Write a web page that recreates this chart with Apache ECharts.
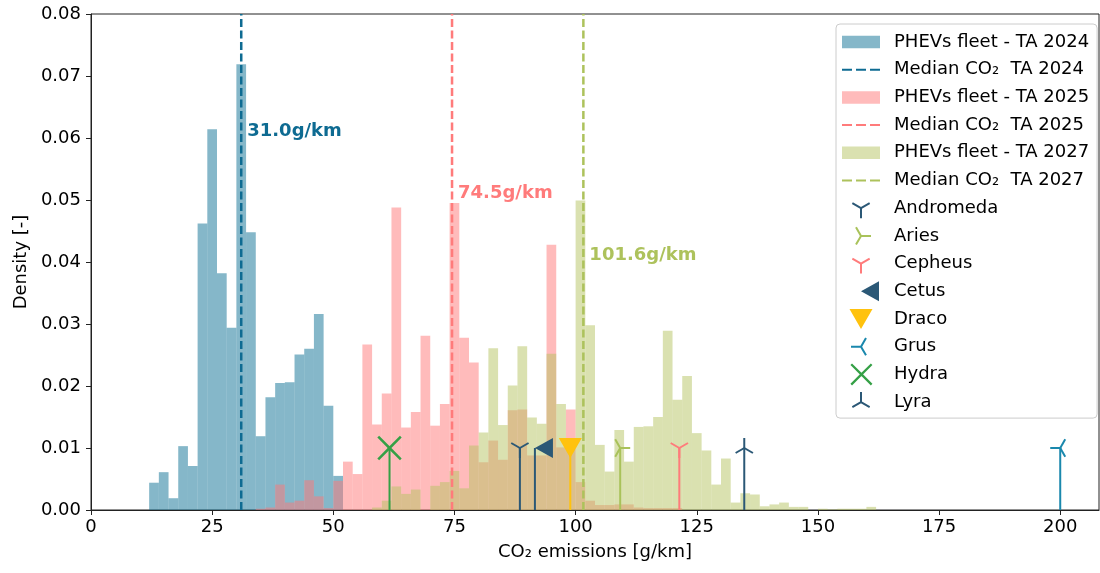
<!DOCTYPE html>
<html>
<head>
<meta charset="utf-8">
<script src="https://cdn.jsdelivr.net/npm/echarts@6/dist/echarts.min.js"></script>
<style>
html, body { margin: 0; padding: 0; background: #fff; }
#chart { width: 1100px; height: 573px; }
</style>
</head>
<body>
<div id="chart"></div>
<script>
// histogram bins (width 2 g/km), density values
var binWidth = 2;
var ta2024Start = 12;
var ta2024 = [0.0044, 0.0061, 0.0019, 0.0103, 0.0071, 0.0462, 0.0614, 0.0382, 0.0294, 0.0719,
  0.0448, 0.0119, 0.0182, 0.0205, 0.0206, 0.0251, 0.0260, 0.0316, 0.0168, 0.0055];
var ta2025Start = 34;
var ta2025 = [0.0002, 0.0004, 0.0041, 0.0012, 0.0015, 0.0048, 0.0022, 0.0003, 0.0047, 0.0078,
  0.0058, 0.0267, 0.0138, 0.0188, 0.0488, 0.0133, 0.0158, 0.0281, 0.0136, 0.0171,
  0.0495, 0.0278, 0.0238, 0.0077, 0.0112, 0.0081, 0.0161, 0.0162, 0.0088, 0.0088,
  0.0428, 0.0101, 0.0162, 0.0045, 0.0015, 0.0008, 0.0008, 0.0009, 0.0009, 0.0004,
  0.0003, 0.0003, 0.0003, 0.0003];
var ta2027Start = 58;
var ta2027 = [0.0004, 0.0015, 0.0038, 0.0026, 0.0033, 0, 0.0039, 0.0045, 0.0063, 0.0035,
  0.0104, 0.0125, 0.0261, 0.0137, 0.0201, 0.0264, 0.0149, 0.0139, 0.0252, 0.0171,
  0.0101, 0.0499, 0.0298, 0.0105, 0.0062, 0.0129, 0.0078, 0.0134, 0.0135, 0.0150,
  0.0289, 0.0178, 0.0216, 0.0124, 0.0096, 0.0041, 0.0083, 0.0012, 0.0027, 0.0025,
  0.0006, 0.0009, 0.0012, 0.0005, 0.0005, 0, 0.0002, 0.0001, 0.0002, 0.0002,
  0.0002, 0.0005];

var fleetNames = ['PHEVs fleet - TA 2024', 'PHEVs fleet - TA 2025', 'PHEVs fleet - TA 2027'];
var medianNames = ['Median CO\u2082  TA 2024', 'Median CO\u2082  TA 2025', 'Median CO\u2082  TA 2027'];
var medians = [31.0, 74.5, 101.6];
var medianLabelY = [0.061, 0.051, 0.041];

var instruments = ['Andromeda', 'Aries', 'Cepheus', 'Cetus', 'Draco', 'Grus', 'Hydra', 'Lyra'];
var instrumentX = [88.5, 109.2, 121.4, 91.6, 98.9, 200, 61.6, 134.8];
var instrumentY = 0.01;

var xTicks = [0, 25, 50, 75, 100, 125, 150, 175, 200];

// styling
var FONT = 'DejaVu Sans';
var FS = 18;
var fleetColors = ['rgba(11,111,147,0.5)', 'rgba(255,120,120,0.5)', 'rgba(181,195,97,0.5)'];
var medianColors = ['#0e6b92', '#ff7b7b', '#adc25c'];
var slate = '#2b5876';
var instrumentColor = [slate, '#a9c25a', '#ff7b7b', slate, '#ffc20e', '#1a88ad', '#35a046', slate];
var instrumentShape = ['triDown', 'triRight', 'triDown', 'triLeftFill', 'triDownFill', 'triLeft', 'cross', 'triUp'];

var S = 0.866;
var shapes = {
  triDown: { arms: [[0, 1], [-S, -0.5], [S, -0.5]], r: 10, lw: 2 },
  triUp: { arms: [[0, -1], [-S, 0.5], [S, 0.5]], r: 10, lw: 2 },
  triRight: { arms: [[1, 0], [-0.5, -S], [-0.5, S]], r: 10, lw: 2 },
  triLeft: { arms: [[-1, 0], [0.5, -S], [0.5, S]], r: 10, lw: 2 },
  cross: { arms: [[1, 1], [-1, -1], [1, -1], [-1, 1]], r: 11.3, lw: 2.5 },
  triLeftFill: { poly: [[0, 0], [18, -10], [18, 10]] },
  triDownFill: { poly: [[-11.5, -10], [11.5, -10], [0, 10]] }
};

function histData(start, values) {
  return values.map(function (v, i) { return [start + i * binWidth, v]; });
}

function renderHist(color) {
  return function (params, api) {
    var x0 = api.value(0);
    var p0 = api.coord([x0, api.value(1)]);
    var p1 = api.coord([x0 + binWidth, 0]);
    return {
      type: 'rect',
      shape: { x: p0[0], y: p0[1], width: p1[0] - p0[0], height: p1[1] - p0[1] },
      style: { fill: color }
    };
  };
}

function renderMedian(i) {
  return function (params, api) {
    var m = api.value(0);
    var bottom = api.coord([m, 0]);
    var top = api.coord([m, 0.08]);
    var lab = api.coord([m, api.value(1)]);
    return {
      type: 'group',
      children: [{
        type: 'line',
        shape: { x1: bottom[0], y1: bottom[1], x2: top[0], y2: top[1] },
        style: { stroke: medianColors[i], lineWidth: 2.5, lineDash: [8, 3.5] }
      }, {
        type: 'text',
        style: {
          x: lab[0] + 6, y: lab[1], text: m.toFixed(1) + 'g/km',
          fill: medianColors[i], font: 'bold ' + FS + 'px "' + FONT + '"',
          verticalAlign: 'middle', align: 'left'
        }
      }]
    };
  };
}

function renderMarker(i) {
  return function (params, api) {
    var top = api.coord([api.value(0), api.value(1)]);
    var base = api.coord([api.value(0), 0]);
    var color = instrumentColor[i];
    var sh = shapes[instrumentShape[i]];
    var kids = [{
      type: 'line',
      shape: { x1: base[0], y1: base[1], x2: top[0], y2: top[1] },
      style: { stroke: color, lineWidth: 2 }
    }];
    if (sh.poly) {
      kids.push({
        type: 'polygon',
        shape: { points: sh.poly.map(function (p) { return [top[0] + p[0], top[1] + p[1]]; }) },
        style: { fill: color }
      });
    } else {
      sh.arms.forEach(function (a) {
        kids.push({
          type: 'line',
          shape: { x1: top[0], y1: top[1], x2: top[0] + a[0] * sh.r, y2: top[1] + a[1] * sh.r },
          style: { stroke: color, lineWidth: sh.lw }
        });
      });
    }
    return { type: 'group', children: kids };
  };
}

// legend icons (px units inside a 47x22 box, padded so all icons share one scale)
var iconW = 47, iconH = 22, iconCx = 19, iconCy = 11;
function f(v) { return Math.round(v * 100) / 100; }
var pad = 'M0,0L0,0.01M' + iconW + ',' + iconH + 'L' + iconW + ',' + (iconH - 0.01);
function armPath(dx, dy, r, hw) {
  var len = Math.sqrt(dx * dx + dy * dy), nx = -dy / len * hw, ny = dx / len * hw;
  var ex = iconCx + dx * r, ey = iconCy + dy * r;
  return 'M' + f(iconCx + nx) + ',' + f(iconCy + ny) + 'L' + f(ex + nx) + ',' + f(ey + ny) +
    'L' + f(ex - nx) + ',' + f(ey - ny) + 'L' + f(iconCx - nx) + ',' + f(iconCy - ny) + 'Z';
}
function markerIcon(kind) {
  var sh = shapes[kind], d = '';
  if (sh.poly) {
    d = sh.poly.map(function (p, k) { return (k ? 'L' : 'M') + f(iconCx + p[0]) + ',' + f(iconCy + p[1]); }).join('') + 'Z';
  } else {
    sh.arms.forEach(function (a) { d += armPath(a[0], a[1], sh.r, sh.lw / 2); });
  }
  return 'path://' + d + pad;
}
var histIcon = 'path://M0,4.75h38v12.5h-38Z' + pad;
var dashIcon = 'path://M0,10h10v2h-10ZM14,10h10v2h-10ZM28,10h10v2h-10Z' + pad;

var fleetStarts = [ta2024Start, ta2025Start, ta2027Start];
var fleetValues = [ta2024, ta2025, ta2027];

var series = [];
var legendData = [];
fleetNames.forEach(function (n, i) {
  series.push({
    name: n, type: 'custom', renderItem: renderHist(fleetColors[i]),
    itemStyle: { color: fleetColors[i] },
    data: histData(fleetStarts[i], fleetValues[i]), z: 1, silent: true
  });
});
medianNames.forEach(function (n, i) {
  series.push({
    name: n, type: 'custom', renderItem: renderMedian(i),
    itemStyle: { color: medianColors[i] },
    data: [[medians[i], medianLabelY[i]]], z: 2, silent: true
  });
});
for (var k = 0; k < 3; k++) {
  legendData.push({ name: fleetNames[k], icon: histIcon });
  legendData.push({ name: medianNames[k], icon: dashIcon });
}
instruments.forEach(function (n, i) {
  series.push({
    name: n, type: 'custom', renderItem: renderMarker(i),
    itemStyle: { color: instrumentColor[i] },
    data: [[instrumentX[i], instrumentY]], z: 3, silent: true
  });
  legendData.push({ name: n, icon: markerIcon(instrumentShape[i]) });
});

var chart = echarts.init(document.getElementById('chart'));
var option = {
  animation: false,
  textStyle: { fontFamily: FONT },
  grid: { left: 91, right: 1, top: 14, bottom: 63, show: true, borderColor: '#222', borderWidth: 1 },
  legend: {
    orient: 'vertical', left: 836, top: 24,
    padding: [7, 8, 5, 6], itemGap: 5.7,
    itemWidth: iconW, itemHeight: iconH,
    data: legendData, selectedMode: false,
    backgroundColor: 'rgba(255,255,255,0.85)', borderColor: '#cccccc', borderWidth: 1, borderRadius: 4,
    textStyle: { fontFamily: FONT, fontSize: FS, color: '#000' }
  },
  xAxis: {
    type: 'value', min: 0, max: 208,
    name: 'CO\u2082 emissions [g/km]', nameLocation: 'middle', nameGap: 33,
    nameTextStyle: { fontFamily: FONT, fontSize: FS, color: '#000' },
    axisLine: { lineStyle: { color: '#222', width: 1 } },
    axisTick: { show: true, length: 5, lineStyle: { color: '#222' }, customValues: xTicks },
    axisLabel: { fontFamily: FONT, fontSize: FS, color: '#000', margin: 8, customValues: xTicks },
    splitLine: { show: false }
  },
  yAxis: {
    type: 'value', min: 0, max: 0.08, interval: 0.01,
    name: 'Density [-]', nameLocation: 'middle', nameGap: 60,
    nameTextStyle: { fontFamily: FONT, fontSize: FS, color: '#000' },
    axisLine: { show: true, lineStyle: { color: '#222', width: 1 } },
    axisTick: { show: true, length: 5, lineStyle: { color: '#222' } },
    axisLabel: {
      fontFamily: FONT, fontSize: FS, color: '#000', margin: 10,
      formatter: function (v) { return v.toFixed(2); }
    },
    splitLine: { show: false }
  },
  series: series
};
chart.setOption(option);
</script>
</body>
</html>
